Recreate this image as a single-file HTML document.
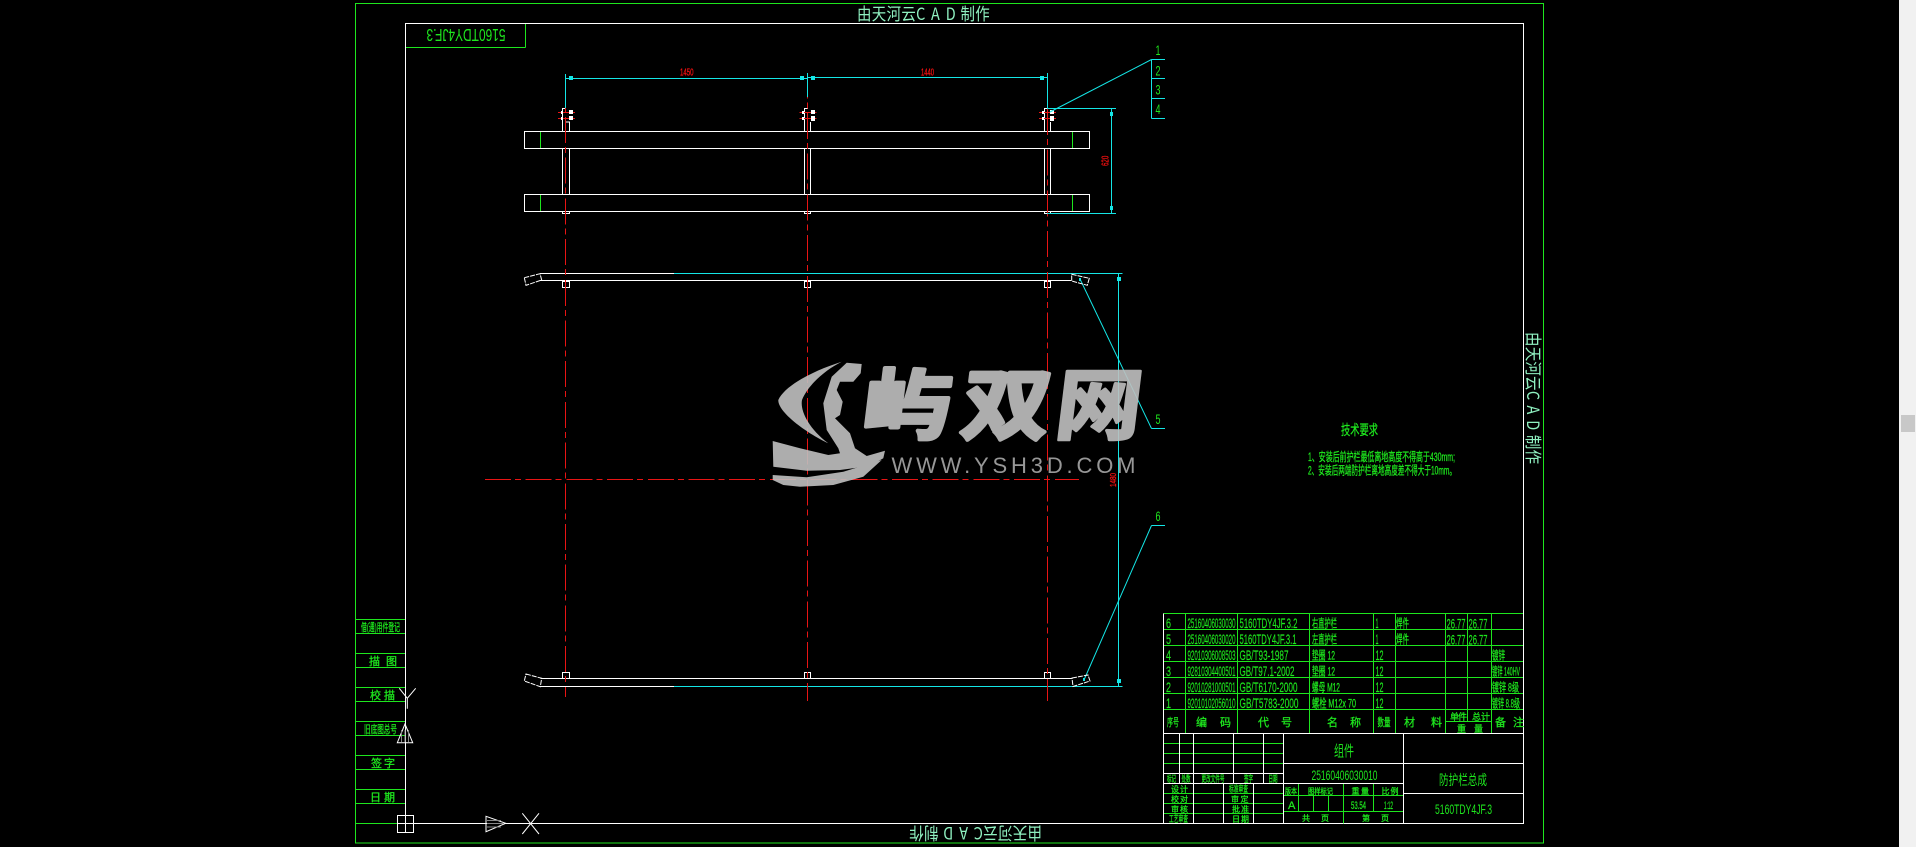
<!DOCTYPE html>
<html lang="zh">
<head>
<meta charset="utf-8">
<title>防护栏总成</title>
<style>
html,body{margin:0;padding:0;width:1916px;height:847px;overflow:hidden;background:#000}
svg{display:block;position:absolute;left:0;top:0}
.g line,.g polyline,.g rect,.g path{fill:none}
.gr{stroke:#1ee61e}.wh{stroke:#fff}.cy{stroke:#14e6e6}.rd{stroke:#e81414}
text{font-family:"Liberation Sans","Noto Sans CJK SC",sans-serif}
.t{fill:#1ee61e;stroke:#1ee61e;stroke-width:.3px;font-size:11px;font-family:"Liberation Sans","Noto Sans CJK SC",sans-serif}
.d{font-size:14px;stroke-width:.15px}
.c{font-size:12px}
.m{fill:#1ee61e;font-size:14px}
.a{fill:#8ff0c0;font-size:17px;font-family:"WenQuanYi Zen Hei","Noto Sans CJK SC",sans-serif}
.r{fill:#f01010;stroke:#f01010;stroke-width:.3px;font-size:10px}
.n{fill:#1ee61e;font-size:14px}
</style>
</head>
<body>
<svg width="1916" height="847" viewBox="0 0 1916 847" xmlns="http://www.w3.org/2000/svg">
<rect x="0" y="0" width="1916" height="847" fill="#000"/>
<g class="g" stroke-width="1" shape-rendering="crispEdges">
  <!-- frames -->
  <rect class="gr" x="355.5" y="3.5" width="1188" height="839.5"/>
  <line class="gr" x1="405.5" y1="47.5" x2="525.5" y2="47.5"/>
  <line class="gr" x1="525.5" y1="23.5" x2="525.5" y2="47.5"/>
  <line class="gr" x1="355.5" y1="823.5" x2="405.5" y2="823.5"/>
  <rect class="wh" x="405.5" y="23.5" width="1118" height="800"/>
  <!-- left strip -->
  <path class="gr" d="M355.5 619.5H405M355.5 633.5H405M355.5 653.5H405M355.5 667.5H405M355.5 687.5H405M355.5 701.5H405M355.5 721.5H405M355.5 735.5H405M355.5 755.5H405M355.5 769.5H405M355.5 789.5H405M355.5 803.5H405"/>
  <!-- table green -->
  <path class="gr" d="M1163.5 613.5H1523M1163.5 629.5H1523M1163.5 645.5H1523M1163.5 661.5H1523M1163.5 677.5H1523M1163.5 693.5H1523M1163.5 709.5H1523M1445.5 721.5H1491.5
  M1185.5 613.5V733M1237.5 613.5V733M1309.5 613.5V733M1373.5 613.5V733M1395.5 613.5V733M1445.5 613.5V733M1467.5 613.5V721.5M1491.5 613.5V733
  M1163.5 743.5H1283.5M1163.5 753.5H1283.5M1163.5 763.5H1283.5M1163.5 793.5H1283.5M1163.5 803.5H1283.5M1163.5 813.5H1283.5
  M1283.5 795.5H1403.5M1283.5 811.5H1403.5M1298.5 783.5V811.5M1313.5 795.5V811.5M1328.5 795.5V811.5M1343.5 783.5V823.5M1373.5 783.5V811.5"/>
  <!-- table white -->
  <path class="wh" d="M1163.5 613.5V823.5M1163.5 733.5H1523.5M1163.5 773.5H1283.5M1163.5 783.5H1403.5M1283.5 763.5H1523.5M1403.5 793.5H1523.5
  M1179.5 733.5V783.5M1193.5 733.5V823.5M1233.5 733.5V783.5M1263.5 733.5V783.5M1283.5 733.5V823.5M1403.5 733.5V823.5M1223.5 783.5V823.5M1253.5 783.5V823.5"/>
  <!-- top-view rails and posts -->
  <path class="wh" d="M562.5 131V108.5H565.5M569.5 131V122H566M562.5 148.5V194.5M569.5 148.5V194.5M562.5 211.5V213.5H569.5V211.5
  M804.5 131V108.5H808M810.5 131V122M804.5 148.5V194.5M810.5 148.5V194.5M804.5 211.5V213.5H810.5V211.5
  M1044.5 131V108.5H1050.5M1050.5 131V122M1044.5 148.5V194.5M1050.5 148.5V194.5M1044.5 211.5V213.5H1050.5V211.5"/>
  <rect class="wh" x="524.5" y="131.5" width="565" height="17"/>
  <rect class="wh" x="524.5" y="194.5" width="565" height="17"/>
  <path class="gr" d="M540.5 132V148M540.5 195V211M1072.5 132V148M1072.5 195V211"/>
  <!-- front-view -->
  <path class="wh" d="M540 273.5H674M540 280.5H1071.5M540.5 678.5H1071.5M540.5 686.5H674"/>
  <path class="cy" d="M674 273.5H1122.5M674 686.5H1122.5"/>
  <rect class="wh" x="562.5" y="281.5" width="7" height="6"/>
  <rect class="wh" x="804.5" y="281.5" width="6" height="6"/>
  <rect class="wh" x="1044.5" y="281.5" width="6" height="6"/>
  <rect class="wh" x="562.5" y="672.5" width="7" height="6"/>
  <rect class="wh" x="804.5" y="672.5" width="6" height="6"/>
  <rect class="wh" x="1044.5" y="672.5" width="6" height="6"/>
  <!-- center lines -->
  <g class="rd">
    <line x1="565.5" y1="108" x2="565.5" y2="697" stroke-dasharray="26 4 6 4.7" stroke-dashoffset="-9"/>
    <line x1="807.5" y1="97" x2="807.5" y2="701" stroke-dasharray="26 4 6 4.7" stroke-dashoffset="-16"/>
    <line x1="1047.5" y1="108" x2="1047.5" y2="701" stroke-dasharray="26 4 6 4.7" stroke-dashoffset="-1"/>
    <line x1="485" y1="479.5" x2="1079" y2="479.5" stroke-dasharray="26 4 6 4.7"/>
    <path d="M558 112.5H575M558 118.5H575M799.5 112.5H816.5M799.5 118.5H816.5M1039 112.5H1056M1039 118.5H1056"/>
  </g>
  <!-- bolt blobs -->
  <g stroke="none">
    <rect x="569" y="110" width="4" height="4" style="fill:#fff"/><rect x="569" y="116" width="4" height="4" style="fill:#fff"/>
    <rect x="561" y="111" width="2" height="3" style="fill:#fff"/><rect x="561" y="117" width="2" height="3" style="fill:#fff"/>
    <rect x="811" y="110" width="4" height="4" style="fill:#fff"/><rect x="811" y="116" width="4" height="5" style="fill:#fff"/>
    <rect x="802" y="111" width="2" height="3" style="fill:#fff"/><rect x="802" y="117" width="2" height="3" style="fill:#fff"/>
    <rect x="1050" y="110" width="4" height="4" style="fill:#fff"/><rect x="1050" y="116" width="4" height="5" style="fill:#fff"/>
    <rect x="1042" y="111" width="2" height="3" style="fill:#fff"/><rect x="1042" y="117" width="2" height="3" style="fill:#fff"/>
  </g>
  <!-- dims -->
  <path class="cy" d="M565.5 74V108M807.5 73V97M1047.5 73V108M566 78.5H807M807 77.5H1047.5M1047 108.5H1116M1047 213.5H1116M1111.5 108.5V213.5M1118.5 273.5V686.5
  M1151.5 59.5V118.5M1151.5 59.5H1165M1151.5 78.5H1165M1151.5 98.5H1165M1151.5 118.5H1165M1151.5 428.5H1165M1151.5 525.5H1165"/>
  <g stroke="none">
    <rect x="569" y="76" width="4" height="4" style="fill:#14e6e6"/><rect x="800" y="76" width="4" height="4" style="fill:#14e6e6"/>
    <rect x="811" y="76" width="4" height="4" style="fill:#14e6e6"/><rect x="1040" y="76" width="4" height="4" style="fill:#14e6e6"/>
    <rect x="1110" y="112" width="3" height="4" style="fill:#14e6e6"/><rect x="1110" y="206" width="3" height="4" style="fill:#14e6e6"/>
    <rect x="1117" y="277" width="4" height="4" style="fill:#14e6e6"/><rect x="1117" y="679" width="4" height="4" style="fill:#14e6e6"/>
    <rect x="1079" y="278" width="2" height="3" style="fill:#14e6e6"/><rect x="1083" y="678" width="2" height="3" style="fill:#14e6e6"/>
  </g>
</g>
<g fill="none" stroke-width="1">
  <path stroke="#14e6e6" d="M1050 112L1151.5 59.5M1080 279L1151.5 428.5M1084 680L1151.5 525.5"/>
  <path stroke="#fff" d="M524.3 277.7L540 273.7L541.7 280L526 285.3ZM1071.7 274.3L1089.3 278.3L1087.3 285.3L1071.7 281ZM526 674L541.7 678.3L540.3 686.7L524.3 681ZM1072 678L1088 675L1090 681L1073 686.5Z" stroke-dasharray="5 1"/>
  <!-- UCS -->
  <path stroke="#fff" d="M399.3 688.3L407.3 698.3L415.7 688.3M407.3 698.3V708.7M405 724L397.3 742.7H412.7ZM486 816.3V831.7L505.7 823.3ZM522.3 813.3L539 834M539 813.3L522.3 834"/>
  <path stroke="#888" d="M401.5 730V742M405 730V742M408.5 730V742M487 820.5H501M487 823.5H504M487 827H501"/>
  <rect stroke="#fff" x="397.5" y="815.5" width="16" height="17" shape-rendering="crispEdges"/>
  <path stroke="#fff" d="M405.5 815.5V832.5M397.5 823.5H413.5" shape-rendering="crispEdges"/>
</g>

<!-- frame labels -->
<text class="a" transform="translate(857 20) scale(.85 1)" x="0 17.4 34.8 52.2 69.6 87 104.4 121.8 139.2" y="0">由天河云CAD制作</text>
<text class="a" transform="rotate(180 976 833) translate(910 839) scale(.85 1)" x="0 17.4 34.8 52.2 69.6 87 104.4 121.8 139.2" y="0">由天河云CAD制作</text>
<text class="a" transform="translate(1527 332) rotate(90) scale(.85 1)" x="0 17.3 34.6 51.9 69.2 86.5 103.8 121.1 138.4" y="0">由天河云CAD制作</text>
<text class="n" transform="rotate(180 466 35.5)" x="426.5" y="42" textLength="79" lengthAdjust="spacingAndGlyphs" style="font-size:17.5px">5160TDY4JF.3</text>

<!-- dims text -->
<text class="r" x="680" y="75.5" textLength="13.5" lengthAdjust="spacingAndGlyphs">1450</text>
<text class="r" x="921" y="75.5" textLength="13" lengthAdjust="spacingAndGlyphs">1440</text>
<text class="r" transform="translate(1108.7 166) rotate(-90)" x="0" y="0" textLength="10.3" lengthAdjust="spacingAndGlyphs">620</text>
<text class="r" transform="translate(1116 487) rotate(-90)" x="0" y="0" textLength="14" lengthAdjust="spacingAndGlyphs" style="font-size:8.5px">1480</text>

<!-- balloons -->
<text class="n" x="1155.5" y="55" textLength="5" lengthAdjust="spacingAndGlyphs">1</text>
<text class="n" x="1155.5" y="75.5" textLength="5" lengthAdjust="spacingAndGlyphs">2</text>
<text class="n" x="1155.5" y="94.7" textLength="5" lengthAdjust="spacingAndGlyphs">3</text>
<text class="n" x="1155.5" y="114" textLength="5" lengthAdjust="spacingAndGlyphs">4</text>
<text class="n" x="1155.5" y="424" textLength="5" lengthAdjust="spacingAndGlyphs">5</text>
<text class="n" x="1155.5" y="521" textLength="5" lengthAdjust="spacingAndGlyphs">6</text>

<!-- tech notes -->
<text class="t" x="1341" y="435" textLength="37" lengthAdjust="spacingAndGlyphs" style="font-size:14px">技术要求</text>
<text class="t c" x="1308" y="461" textLength="147" lengthAdjust="spacingAndGlyphs">1、安装后前护栏最低离地高度不得高于430mm;</text>
<text class="t c" x="1308" y="474.5" textLength="148" lengthAdjust="spacingAndGlyphs">2、安装后两端防护栏离地高度差不得大于10mm。</text>

<!-- left strip labels -->
<text class="t" x="361" y="631" textLength="39" lengthAdjust="spacingAndGlyphs">借(通)用件登记</text>
<text class="t" x="369" y="665">描</text><text class="t" x="386" y="665">图</text>
<text class="t" x="370" y="699">校</text><text class="t" x="384" y="699">描</text>
<text class="t" x="364" y="733" textLength="33" lengthAdjust="spacingAndGlyphs">旧底图总号</text>
<text class="t" x="371" y="767">签</text><text class="t" x="384" y="767">字</text>
<text class="t" x="370" y="801">日</text><text class="t" x="384" y="801">期</text>

<!-- parts table -->
<g>
<text class="t d" x="1166" y="628" textLength="5" lengthAdjust="spacingAndGlyphs">6</text><text class="t d" x="1166" y="644" textLength="5" lengthAdjust="spacingAndGlyphs">5</text><text class="t d" x="1166" y="660" textLength="5" lengthAdjust="spacingAndGlyphs">4</text><text class="t d" x="1166" y="676" textLength="5" lengthAdjust="spacingAndGlyphs">3</text><text class="t d" x="1166" y="692" textLength="5" lengthAdjust="spacingAndGlyphs">2</text><text class="t d" x="1166" y="708" textLength="5" lengthAdjust="spacingAndGlyphs">1</text>
<text class="t d" x="1187.5" y="628" textLength="48" lengthAdjust="spacingAndGlyphs">25160406030030</text>
<text class="t d" x="1187.5" y="644" textLength="48" lengthAdjust="spacingAndGlyphs">25160406030020</text>
<text class="t d" x="1187.5" y="660" textLength="48" lengthAdjust="spacingAndGlyphs">92010306008503</text>
<text class="t d" x="1187.5" y="676" textLength="48" lengthAdjust="spacingAndGlyphs">92810304400501</text>
<text class="t d" x="1187.5" y="692" textLength="48" lengthAdjust="spacingAndGlyphs">92010281000501</text>
<text class="t d" x="1187.5" y="708" textLength="48" lengthAdjust="spacingAndGlyphs">92010102056010</text>
<text class="t d" x="1239.5" y="628" textLength="58" lengthAdjust="spacingAndGlyphs">5160TDY4JF.3.2</text>
<text class="t d" x="1239.5" y="644" textLength="57" lengthAdjust="spacingAndGlyphs">5160TDY4JF.3.1</text>
<text class="t d" x="1239.5" y="660" textLength="49" lengthAdjust="spacingAndGlyphs">GB/T93-1987</text>
<text class="t d" x="1239.5" y="676" textLength="55" lengthAdjust="spacingAndGlyphs">GB/T97.1-2002</text>
<text class="t d" x="1239.5" y="692" textLength="58" lengthAdjust="spacingAndGlyphs">GB/T6170-2000</text>
<text class="t d" x="1239.5" y="708" textLength="59" lengthAdjust="spacingAndGlyphs">GB/T5783-2000</text>
<text class="t c" x="1312" y="627.5" textLength="25" lengthAdjust="spacingAndGlyphs">右直护栏</text>
<text class="t c" x="1312" y="643.5" textLength="25" lengthAdjust="spacingAndGlyphs">左直护栏</text>
<text class="t c" x="1312" y="659.5" textLength="23" lengthAdjust="spacingAndGlyphs">垫圈 12</text>
<text class="t c" x="1312" y="675.5" textLength="23" lengthAdjust="spacingAndGlyphs">垫圈 12</text>
<text class="t c" x="1312" y="691.5" textLength="28" lengthAdjust="spacingAndGlyphs">螺母 M12</text>
<text class="t c" x="1312" y="707.5" textLength="44" lengthAdjust="spacingAndGlyphs">螺栓 M12x 70</text>
<text class="t d" x="1375.5" y="628" textLength="3" lengthAdjust="spacingAndGlyphs">1</text><text class="t d" x="1375.5" y="644" textLength="3" lengthAdjust="spacingAndGlyphs">1</text>
<text class="t d" x="1375.5" y="660" textLength="8" lengthAdjust="spacingAndGlyphs">12</text><text class="t d" x="1375.5" y="676" textLength="8" lengthAdjust="spacingAndGlyphs">12</text><text class="t d" x="1375.5" y="692" textLength="8" lengthAdjust="spacingAndGlyphs">12</text><text class="t d" x="1375.5" y="708" textLength="8" lengthAdjust="spacingAndGlyphs">12</text>
<text class="t c" x="1396" y="627.5" textLength="13" lengthAdjust="spacingAndGlyphs">焊件</text>
<text class="t c" x="1396" y="643.5" textLength="13" lengthAdjust="spacingAndGlyphs">焊件</text>
<text class="t d" x="1446.5" y="628.5" textLength="19" lengthAdjust="spacingAndGlyphs">26.77</text>
<text class="t d" x="1468.5" y="628.5" textLength="19" lengthAdjust="spacingAndGlyphs">26.77</text>
<text class="t d" x="1446.5" y="644.5" textLength="19" lengthAdjust="spacingAndGlyphs">26.77</text>
<text class="t d" x="1468.5" y="644.5" textLength="19" lengthAdjust="spacingAndGlyphs">26.77</text>
<text class="t c" x="1492" y="659.5" textLength="13" lengthAdjust="spacingAndGlyphs">镀锌</text>
<text class="t c" x="1492" y="675.5" textLength="28" lengthAdjust="spacingAndGlyphs">镀锌 140HV</text>
<text class="t c" x="1492" y="691.5" textLength="27" lengthAdjust="spacingAndGlyphs">镀锌 8级</text>
<text class="t c" x="1492" y="707.5" textLength="28" lengthAdjust="spacingAndGlyphs">镀锌 8.8级</text>
<text class="t" x="1167" y="726" textLength="12" lengthAdjust="spacingAndGlyphs">序号</text>
<text class="t" x="1196" y="726">编</text><text class="t" x="1220" y="726">码</text>
<text class="t" x="1258" y="726">代</text><text class="t" x="1281" y="726">号</text>
<text class="t" x="1327" y="726">名</text><text class="t" x="1350" y="726">称</text>
<text class="t" x="1377.5" y="726" textLength="13" lengthAdjust="spacingAndGlyphs">数量</text>
<text class="t" x="1404" y="726">材</text><text class="t" x="1431" y="726">料</text>
<text class="t" x="1450" y="720" style="font-size:9px">单</text><text class="t" x="1458" y="720" style="font-size:9px">件</text>
<text class="t" x="1472" y="720" style="font-size:9px">总</text><text class="t" x="1481" y="720" style="font-size:9px">计</text>
<text class="t" x="1457" y="732" style="font-size:9px">重</text><text class="t" x="1474" y="732" style="font-size:9px">量</text>
<text class="t" x="1495" y="726">备</text><text class="t" x="1513" y="726">注</text>
</g>

<!-- title block -->
<g>
<text class="m" x="1334" y="756" textLength="20" lengthAdjust="spacingAndGlyphs" style="font-size:15px">组件</text>
<text class="m" x="1311.5" y="780" textLength="66" lengthAdjust="spacingAndGlyphs">25160406030010</text>
<text class="m" x="1439" y="785" textLength="48" lengthAdjust="spacingAndGlyphs" style="font-size:14px">防护栏总成</text>
<text class="m" x="1435" y="814" textLength="57" lengthAdjust="spacingAndGlyphs">5160TDY4JF.3</text>
<text class="t" x="1167" y="782" textLength="9" lengthAdjust="spacingAndGlyphs" style="font-size:9px">标记</text>
<text class="t" x="1181.5" y="782" textLength="9" lengthAdjust="spacingAndGlyphs" style="font-size:9px">处数</text>
<text class="t" x="1201.5" y="782" textLength="23" lengthAdjust="spacingAndGlyphs" style="font-size:9px">更改文件号</text>
<text class="t" x="1244" y="782" textLength="9" lengthAdjust="spacingAndGlyphs" style="font-size:9px">签字</text>
<text class="t" x="1268.5" y="782" textLength="9" lengthAdjust="spacingAndGlyphs" style="font-size:9px">日期</text>
<text class="t" x="1171" y="792" style="font-size:8px">设</text><text class="t" x="1180" y="792" style="font-size:8px">计</text>
<text class="t" x="1229" y="792" textLength="19" lengthAdjust="spacingAndGlyphs" style="font-size:9px">标准审查</text>
<text class="t" x="1171" y="802" style="font-size:8px">校</text><text class="t" x="1180" y="802" style="font-size:8px">对</text>
<text class="t" x="1231" y="802" style="font-size:8px">审</text><text class="t" x="1240.5" y="802" style="font-size:8px">定</text>
<text class="t" x="1171" y="812" style="font-size:8px">审</text><text class="t" x="1180" y="812" style="font-size:8px">核</text>
<text class="t" x="1232" y="812" style="font-size:8px">批</text><text class="t" x="1241" y="812" style="font-size:8px">准</text>
<text class="t" x="1169" y="822" textLength="19" lengthAdjust="spacingAndGlyphs" style="font-size:9px">工艺审查</text>
<text class="t" x="1232" y="822" style="font-size:8px">日</text><text class="t" x="1241" y="822" style="font-size:8px">期</text>
<text class="t" x="1285" y="794" textLength="12" lengthAdjust="spacingAndGlyphs" style="font-size:8px">版本</text>
<text class="t" x="1308" y="794" textLength="25" lengthAdjust="spacingAndGlyphs" style="font-size:8px">图样标记</text>
<text class="t" x="1351.5" y="794" style="font-size:8px">重</text><text class="t" x="1361" y="794" style="font-size:8px">量</text>
<text class="t" x="1381.5" y="794" style="font-size:8px">比</text><text class="t" x="1390.5" y="794" style="font-size:8px">例</text>
<text class="t" x="1288" y="809" style="font-size:11px">A</text>
<text class="t" x="1351" y="809" textLength="15" lengthAdjust="spacingAndGlyphs" style="font-size:11px">53.54</text>
<text class="t" x="1384" y="809" textLength="9" lengthAdjust="spacingAndGlyphs" style="font-size:11px">1:12</text>
<text class="t" x="1302" y="821" style="font-size:8px">共</text><text class="t" x="1321" y="821" style="font-size:8px">页</text>
<text class="t" x="1362" y="821" style="font-size:8px">第</text><text class="t" x="1381" y="821" style="font-size:8px">页</text>
</g>

<!-- watermark -->
<g opacity="0.9">
  <g fill="#c0c0c0">
    <path d="M841.7 361.7C815 370 785 385 778.3 400C778 412 805 432 828.3 443.3C808 428 800 410 802 400C808 385 825 370 841.7 361.7Z"/>
    <path d="M846.7 362.7L861.7 364L860.7 373.3L853.3 381.7L840 381.7L836.7 390L842.7 401.7L840 415L835 418.3L850 433.3L855 448.3L866.7 456L885 450.7L883.3 458.3L870 466L840 470L806.7 470.7L773.3 466.7L772.7 441L800 448.3L828.3 455L840 453.3L838.3 448.3L826.7 430L823.3 403.3L831.7 376.7Z"/>
    <path d="M772.7 475L806.7 477.3L843.3 471.7L881.7 460L863.3 476.7L833.3 485L800 486.7L783.3 485L772.7 480Z"/>
    <text transform="translate(860 433) skewX(-7) scale(1.08 .95)" x="0" y="0" stroke="#c0c0c0" stroke-width="4" stroke-linejoin="round" style="font-family:'Noto Sans CJK SC','Liberation Sans',sans-serif;font-size:82px;font-weight:700">屿</text>
    <text transform="translate(959 433) skewX(-7) scale(1.08 .95)" x="0" y="0" stroke="#c0c0c0" stroke-width="4" stroke-linejoin="round" style="font-family:'Noto Sans CJK SC','Liberation Sans',sans-serif;font-size:82px;font-weight:700">双</text>
    <text transform="translate(1053 433) skewX(-7) scale(1.05 .95)" x="0" y="0" stroke="#c0c0c0" stroke-width="3" stroke-linejoin="round" style="font-family:'Noto Sans CJK SC','Liberation Sans',sans-serif;font-size:82px;font-weight:700">网</text>
  </g>
  <text x="891.5" y="473" textLength="244" lengthAdjust="spacing" fill="#a8a8a8" style="font-size:22px">WWW.YSH3D.COM</text>
</g>

<!-- scrollbar -->
<rect x="1899" y="0" width="17" height="847" fill="#f1f1f1"/>
<rect x="1901" y="415" width="14" height="17" fill="#c8c8c8"/>
</svg>
</body>
</html>
